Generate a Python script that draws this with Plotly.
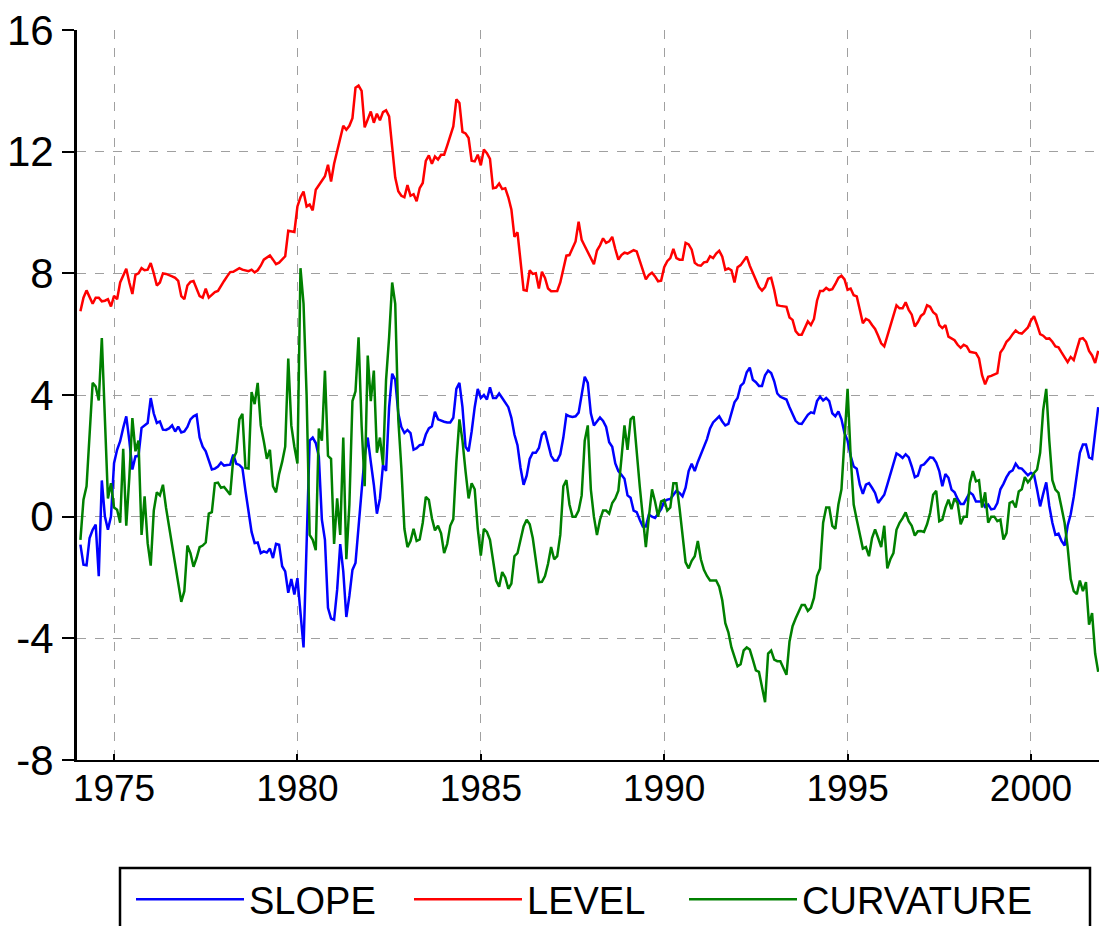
import plotly.graph_objects as go

# Monthly factor series, January 1974 onwards (one row per year)
level = [
    6.75, 7.2, 7.44, 7.2, 7.0, 7.2, 7.2, 7.08, 7.1, 7.15, 6.91, 7.26,
    7.15, 7.7, 7.9, 8.15, 7.7, 7.32, 7.95, 8.0, 8.17, 8.1, 8.12, 8.34,
    8.0, 7.6, 7.7, 8.0, 7.98, 7.95, 7.9, 7.85, 7.75, 7.25, 7.15, 7.6,
    7.72, 7.75, 7.5, 7.25, 7.2, 7.5, 7.2, 7.3, 7.38, 7.42, 7.6, 7.75,
    7.9, 8.04, 8.05, 8.12, 8.17, 8.12, 8.1, 8.07, 8.12, 8.03, 8.1, 8.25,
    8.45, 8.52, 8.59, 8.45, 8.3, 8.35, 8.45, 8.56, 9.4, 9.38, 9.36, 10.2,
    10.5, 10.69, 10.2, 10.26, 10.07, 10.75, 10.9, 11.02, 11.19, 11.57, 11.02, 11.6,
    12.05, 12.5, 12.85, 12.72, 12.85, 13.1, 14.1, 14.17, 14.0, 12.8, 13.05, 13.32,
    12.95, 13.25, 13.03, 13.3, 13.36, 13.16, 12.15, 11.15, 10.7, 10.55, 10.5, 10.9,
    10.55, 10.6, 10.37, 10.8, 10.97, 11.7, 11.88, 11.6, 11.84, 11.74, 11.9, 11.9,
    12.2, 12.5, 12.83, 13.72, 13.6, 12.65, 12.6, 12.45, 11.7, 11.68, 11.9, 11.55,
    12.07, 11.95, 11.76, 10.8, 10.82, 10.95, 10.77, 10.8, 10.5, 10.1, 9.2, 9.35,
    8.3, 7.45, 7.43, 8.1, 7.98, 8.0, 7.5, 8.05, 7.85, 7.5, 7.41, 7.41,
    7.42, 7.7, 8.15, 8.58, 8.6, 8.8, 9.05, 9.7, 9.1, 8.9, 8.7, 8.45,
    8.3, 8.75, 8.92, 9.15, 9.0, 9.05, 9.2, 8.8, 8.45, 8.6, 8.68, 8.65,
    8.7, 8.76, 8.72, 8.4, 8.1, 7.8, 7.95, 8.02, 7.9, 7.74, 7.76, 8.2,
    8.4, 8.5, 8.8, 8.5, 8.45, 8.45, 9.0, 8.95, 8.78, 8.35, 8.27, 8.25,
    8.36, 8.38, 8.56, 8.5, 8.65, 8.74, 8.55, 8.12, 8.16, 8.1, 7.7, 8.2,
    8.27, 8.4, 8.55, 8.25, 8.02, 7.75, 7.55, 7.43, 7.55, 7.82, 7.85, 7.45,
    6.95, 6.93, 6.92, 6.9, 6.55, 6.47, 6.1, 5.98, 5.98, 6.2, 6.42, 6.3,
    6.5, 7.1, 7.42, 7.42, 7.52, 7.45, 7.48, 7.65, 7.85, 7.92, 7.8, 7.46,
    7.5, 7.28, 7.24, 6.8, 6.36, 6.5, 6.45, 6.3, 6.17, 5.95, 5.7, 5.6,
    5.95, 6.3, 6.64, 6.95, 6.85, 6.85, 7.05, 6.8, 6.64, 6.25, 6.4, 6.6,
    6.68, 6.95, 6.9, 6.72, 6.64, 6.3, 6.2, 6.3, 5.92, 5.86, 5.8, 5.65,
    5.55, 5.65, 5.6, 5.42, 5.39, 5.38, 5.2, 4.65, 4.35, 4.6, 4.63, 4.68,
    4.72, 5.4, 5.54, 5.75, 5.85, 6.0, 6.12, 6.04, 6.02, 6.12, 6.22, 6.45,
    6.59, 6.31, 6.0, 5.95, 5.85, 5.86, 5.75, 5.6, 5.57, 5.4, 5.25, 5.08,
    5.25, 5.15, 5.5, 5.84, 5.87, 5.75, 5.45, 5.3, 5.05, 5.45,
]

slope = [
    -0.92, -1.58, -1.6, -0.7, -0.43, -0.26, -1.96, 1.19, 0.01, -0.43, 0.01, 1.76,
    2.2, 2.48, 2.92, 3.3, 2.5, 1.55, 1.98, 2.0, 2.92, 3.0, 3.08, 3.9,
    3.39, 3.08, 3.13, 2.86, 2.85, 2.9, 3.0, 2.8, 2.96, 2.77, 2.8, 2.95,
    3.2, 3.3, 3.35, 2.6, 2.3, 2.15, 1.85, 1.55, 1.58, 1.65, 1.78, 1.68,
    1.7, 1.71, 2.04, 1.74, 1.7, 1.6, 0.85, 0.1, -0.5, -0.87, -0.85, -1.2,
    -1.14, -1.18, -1.05, -1.36, -0.89, -0.92, -1.63, -1.8, -2.5, -2.05, -2.56, -2.02,
    -3.06, -4.3, -0.9, 2.5, 2.6, 2.42, 1.98, -0.1, -0.76, -3.0, -3.35, -3.39,
    -2.4, -0.9, -1.8, -3.3, -2.6, -1.75, -1.52, -0.2, 0.85, 2.0, 2.6, 1.8,
    1.05, 0.1, 0.6, 1.7, 1.5, 3.6, 4.7, 4.5, 3.4, 2.95, 2.75, 2.85,
    2.75, 2.2, 2.25, 2.35, 2.37, 2.7, 2.9, 2.97, 3.45, 3.2, 3.15, 3.12,
    3.1, 3.1, 3.25, 4.2, 4.4, 3.6, 2.3, 2.15, 2.8, 3.6, 4.2, 3.9,
    4.0, 3.85, 4.25, 3.9, 3.9, 4.05, 3.9, 3.75, 3.6, 3.25, 2.7, 2.35,
    1.6, 1.05, 1.35, 1.9, 2.1, 2.1, 2.26, 2.7, 2.8, 2.4, 2.0, 1.85,
    1.85, 2.05, 2.6, 3.35, 3.3, 3.28, 3.3, 3.42, 4.0, 4.6, 4.4, 3.4,
    3.0, 3.15, 3.26, 3.15, 2.95, 2.45, 2.3, 1.75, 1.5, 1.38, 1.25, 0.7,
    0.62, 0.2, 0.15, -0.1, -0.32, -0.32, 0.07, 0.0, -0.04, 0.1, 0.25, 0.5,
    0.56, 0.58, 0.7, 0.85, 0.78, 0.67, 0.95, 1.5, 1.74, 1.5, 1.8, 2.05,
    2.25, 2.55, 2.9, 3.1, 3.2, 3.3, 3.13, 3.0, 3.05, 3.4, 3.76, 3.9,
    4.3, 4.4, 4.75, 4.9, 4.5, 4.42, 4.3, 4.3, 4.65, 4.8, 4.72, 4.45,
    4.05, 3.94, 3.9, 3.85, 3.6, 3.4, 3.15, 3.06, 3.05, 3.2, 3.35, 3.43,
    3.4, 3.8, 3.95, 3.82, 3.9, 3.8, 3.4, 3.3, 3.46, 3.2, 2.75, 2.5,
    2.0, 1.65, 1.58, 1.05, 0.75, 1.05, 1.1, 0.95, 0.78, 0.45, 0.6, 0.72,
    1.05, 1.42, 1.7, 2.08, 2.02, 1.93, 2.05, 1.95, 1.65, 1.3, 1.35, 1.68,
    1.72, 1.85, 1.95, 1.93, 1.78, 1.5, 1.0, 1.4, 1.28, 0.89, 0.8, 0.58,
    0.42, 0.42, 0.6, 0.8, 0.72, 0.5, 0.5, 0.5, 0.32, 0.4, 0.24, 0.26,
    0.45, 0.9, 1.08, 1.3, 1.46, 1.52, 1.74, 1.6, 1.58, 1.45, 1.36, 1.44,
    1.38, 0.89, 0.34, 0.75, 1.13, 0.35, -0.2, -0.6, -0.56, -0.8, -0.95, -0.3,
    0.08, 0.65, 1.4, 2.1, 2.37, 2.37, 1.95, 1.9, 2.76, 3.6,
]

curvature = [
    -0.76, 0.56, 1.0, 2.75, 4.4, 4.28, 3.82, 5.87, 3.3, 0.6, 1.1, 0.3,
    0.23, -0.2, 2.23, -0.3, 1.3, 3.24, 2.15, 2.5, -0.6, 0.67, -0.87, -1.61,
    0.2, 0.8, 0.7, 1.05, 0.3, -0.3, -0.9, -1.6, -2.1, -2.8, -2.45, -0.95,
    -1.2, -1.65, -1.36, -1.0, -0.95, -0.85, 0.1, 0.15, 1.1, 1.12, 0.95, 0.98,
    0.85, 0.72, 1.9, 2.12, 3.2, 3.38, 1.6, 1.58, 4.1, 3.7, 4.4, 3.0,
    2.48, 1.9, 2.2, 1.0, 0.8, 1.4, 1.8, 2.3, 5.2, 3.0, 2.3, 1.75,
    8.17, 7.0, 4.0, -0.6, -0.76, -1.1, 2.9, 2.5, 4.8, 2.0, 1.9, -0.9,
    0.6, -0.6, 2.6, -1.4, 0.4, 3.8, 4.12, 5.9, 3.0, 1.0, 5.3, 3.8,
    4.8, 2.1, 2.6, 1.7, 4.5, 5.9, 7.7, 7.0, 3.2, 1.6, -0.4, -1.0,
    -0.8, -0.4, -0.8, -0.75, -0.2, 0.65, 0.55, -0.05, -0.45, -0.3, -0.55, -1.2,
    -0.9, -0.3, -0.08, 1.8, 3.2, 2.5, 1.5, 0.6, 1.1, 0.9, -0.4, -1.28,
    -0.4, -0.5, -0.76, -1.4, -2.1, -2.3, -1.82, -2.0, -2.37, -2.2, -1.3, -1.2,
    -0.7, -0.32, -0.1, -0.25, -0.7, -1.4, -2.15, -2.14, -1.95, -1.55, -1.0, -1.4,
    -1.3, -0.6, 1.0, 1.2, 0.4, 0.0, 0.0, 0.2, 0.7, 2.5, 3.0, 0.9,
    0.0, -0.6, -0.1, 0.2, 0.2, 0.1, 0.45, 0.6, 0.85, 1.9, 3.0, 2.2,
    3.2, 3.3, 2.0, 1.0, 0.0, -1.0, 0.0, 0.9, 0.5, 0.0, 0.5, 0.55,
    0.2, 0.3, 1.1, 1.1, 0.3, -0.6, -1.5, -1.7, -1.45, -1.3, -0.8, -1.4,
    -1.75, -1.95, -2.1, -2.1, -2.1, -2.3, -2.75, -3.5, -3.8, -4.3, -4.6, -4.92,
    -4.85, -4.4, -4.3, -4.37, -4.7, -5.05, -5.1, -5.6, -6.1, -4.5, -4.4, -4.7,
    -4.75, -4.75, -5.0, -5.2, -4.1, -3.6, -3.35, -3.15, -2.9, -2.9, -3.1, -3.0,
    -2.67, -1.95, -1.7, -0.2, 0.3, 0.3, -0.3, -0.4, 0.4, 0.9, 2.7, 4.2,
    2.0, 0.4, -0.1, -0.6, -1.05, -1.0, -1.3, -0.7, -0.42, -0.7, -1.0, -0.3,
    -1.7, -1.4, -1.2, -0.43, -0.2, -0.05, 0.14, -0.15, -0.3, -0.62, -0.48, -0.47,
    -0.5, -0.25, 0.12, 0.72, 0.85, -0.15, -0.1, 0.29, 0.56, 0.25, 0.6, 0.45,
    -0.25, 0.0, 0.0, 1.1, 1.5, 1.16, 1.2, 0.3, 0.8, -0.2, 0.0, 0.0,
    -0.15, -0.1, -0.75, -0.54, 0.45, 0.5, 0.3, 0.83, 0.9, 1.3, 1.13, 1.25,
    1.44, 1.55, 2.1, 3.5, 4.2, 2.5, 1.2, 0.89, 0.78, 0.3, -0.2, -1.0,
    -2.05, -2.45, -2.55, -2.1, -2.45, -2.15, -3.55, -3.17, -4.5, -5.1,
]

start_year = 1974
year_ticks = [1975, 1980, 1985, 1990, 1995, 2000]
year_labels = [str(y) for y in year_ticks]
value_ticks = [-8, -4, 0, 4, 8, 12, 16]
value_labels = ["-8", "-4", "0", "4", "8", "12", "16"]

# each monthly observation is placed at the end of its month
dates = [start_year + (i + 1) / 12 for i in range(len(level))]

FONT = "Liberation Sans, Arial, sans-serif"

# pixel geometry of the plotting region, used to place the legend pieces
W, H = 1099, 926
L, R, T, B = 77, 0, 30, 166
pw, ph = W - L - R, H - T - B


def px_to_paper_x(px):
    return (px - L) / pw


def px_to_paper_y(py):
    return (H - B - py) / ph


series = [
    ("SLOPE", slope, "#0000FF", "legend", 131),
    ("LEVEL", level, "#FF0000", "legend2", 409),
    ("CURVATURE", curvature, "#008000", "legend3", 684),
]

fig = go.Figure()
legend_layouts = {}
for name, values, color, legend_id, legend_px in series:
    fig.add_trace(go.Scatter(
        x=dates, y=values, mode="lines", name=name,
        line=dict(color=color, width=2.5),
        legend=legend_id,
    ))
    legend_layouts[legend_id] = dict(
        orientation="h",
        x=px_to_paper_x(legend_px), y=px_to_paper_y(868),
        xanchor="left", yanchor="top",
        borderwidth=0, bgcolor="rgba(0,0,0,0)",
        font=dict(family=FONT, size=38, color="black"),
        itemwidth=108,
    )

# legend frame
fig.add_shape(
    type="rect", xref="paper", yref="paper",
    x0=px_to_paper_x(120), x1=px_to_paper_x(1090),
    y0=px_to_paper_y(868), y1=px_to_paper_y(950),
    line=dict(color="black", width=2.5), fillcolor="rgba(0,0,0,0)",
    layer="above",
)

fig.update_layout(
    width=W, height=H,
    margin=dict(l=L, r=R, t=T, b=B, autoexpand=False),
    paper_bgcolor="white", plot_bgcolor="white",
    font=dict(family=FONT, size=36, color="black"),
    showlegend=True,
    **legend_layouts,
)

fig.update_xaxes(
    range=[1973.99, 2001.855],
    tickmode="array", tickvals=year_ticks, ticktext=year_labels,
    tickfont=dict(size=37), ticklabelstandoff=-5,
    showgrid=True, gridcolor="#A0A0A0", griddash="dash", gridwidth=1,
    showline=True, linecolor="black", linewidth=2,
    ticks="inside", ticklen=6, tickwidth=2, tickcolor="black",
    zeroline=False,
)
fig.update_yaxes(
    range=[-8, 16],
    tickmode="array", tickvals=value_ticks, ticktext=value_labels,
    tickfont=dict(size=42),
    showgrid=True, gridcolor="#A0A0A0", griddash="dash", gridwidth=1,
    showline=True, linecolor="black", linewidth=3,
    ticks="outside", ticklen=12, tickwidth=2, tickcolor="black",
    zeroline=False,
)

fig.write_html("out.html")
